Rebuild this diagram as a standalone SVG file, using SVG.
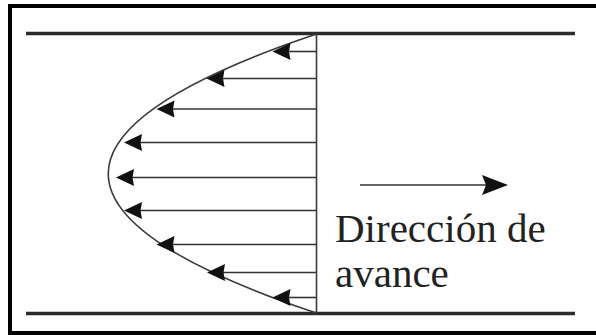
<svg xmlns="http://www.w3.org/2000/svg" width="596" height="335" viewBox="0 0 596 335">
  <style>
    .wall { stroke: #2b2b2b; stroke-width: 3.5; fill: none; }
    .axis { stroke: #3a3a3a; stroke-width: 1.6; fill: none; }
    .profile { stroke: #3a3a3a; stroke-width: 1.6; fill: none; }
    .shaft { stroke: #333; stroke-width: 1.6; fill: none; }
    .head { fill: #111; }
    .label { font-family: "Liberation Serif", "Times New Roman", serif; font-size: 41px; fill: #222; }
  </style>
  <defs>
    <!-- left-pointing velocity arrowhead, tip at origin -->
    <path id="vhead" d="M0,0 L18,-8.5 L16.5,0 L18,8.5 Z"/>
  </defs>

  <rect x="0" y="0" width="596" height="335" fill="#fff"/>
  <!-- frame -->
  <rect x="10" y="6" width="590" height="327" fill="none" stroke="#000" stroke-width="4"/>

  <!-- pipe walls -->
  <g id="walls">
    <line class="wall" x1="26" y1="33.5" x2="575" y2="33.5"/>
    <line class="wall" x1="26" y1="313.5" x2="575" y2="313.5"/>
  </g>

  <!-- reference section and velocity profile -->
  <g id="profile">
    <line class="axis" x1="316.5" y1="34" x2="316.5" y2="313"/>
    <path class="profile" d="M316.5,34 Q-100,174 316.5,313"/>
  </g>

  <g id="connectors">
    <line class="shaft" x1="316" y1="51.5" x2="286" y2="51.5"/>
    <line class="shaft" x1="316" y1="78.5" x2="220" y2="78.5"/>
    <line class="shaft" x1="316" y1="109" x2="170" y2="109"/>
    <line class="shaft" x1="316" y1="142.5" x2="138" y2="142.5"/>
    <line class="shaft" x1="316" y1="177.5" x2="130" y2="177.5"/>
    <line class="shaft" x1="316" y1="210.5" x2="138" y2="210.5"/>
    <line class="shaft" x1="316" y1="244.5" x2="170" y2="244.5"/>
    <line class="shaft" x1="316" y1="272.5" x2="220" y2="272.5"/>
    <line class="shaft" x1="316" y1="297.5" x2="286" y2="297.5"/>
    <g class="head">
      <use href="#vhead" x="272.5" y="51.5"/>
      <use href="#vhead" x="206.5" y="78.5"/>
      <use href="#vhead" x="156.5" y="109"/>
      <use href="#vhead" x="124" y="142.5"/>
      <use href="#vhead" x="116" y="177.5"/>
      <use href="#vhead" x="124" y="210.5"/>
      <use href="#vhead" x="156.5" y="244.5"/>
      <use href="#vhead" x="207" y="272.5"/>
      <use href="#vhead" x="272.5" y="297.5"/>
    </g>
    <!-- direction of travel -->
    <line class="shaft" x1="360" y1="185" x2="488" y2="185"/>
    <path class="head" d="M508,185 L482,175 L486,185 L482,195 Z"/>
  </g>

  <g id="caption">
    <text class="label" x="335" y="241.5">Dirección de</text>
    <text class="label" x="335" y="286.5">avance</text>
  </g>
</svg>
